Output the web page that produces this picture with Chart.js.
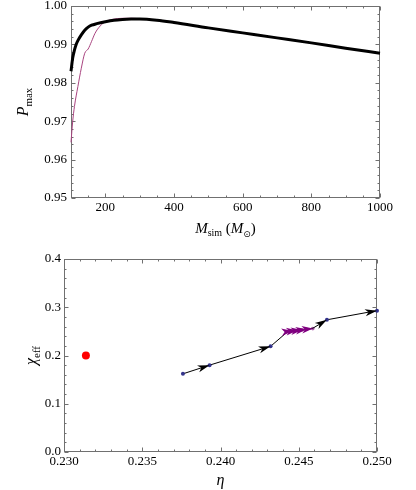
<!DOCTYPE html>
<html><head><meta charset="utf-8">
<script src="https://cdn.jsdelivr.net/npm/chart.js@4"></script>
<style>
html,body{margin:0;padding:0;background:#fff;width:416px;height:490px;overflow:hidden}
.box{position:absolute;left:0;width:416px;height:245px}
canvas{display:block}
</style></head><body>
<div class="box" style="top:0"><canvas id="c1" width="416" height="245"></canvas></div>
<div class="box" style="top:245px"><canvas id="c2" width="416" height="245"></canvas></div>
<script>
// ---- Top panel data: P_max vs M_sim ----
const massBlack = [100,105,110,115,120,130,140,150,160,175,200,225,250,275,300,350,400,500,600,700,800,900,1000];
const pmaxBlack = [0.9830,0.9865,0.9885,0.9900,0.9910,0.9925,0.9937,0.9945,0.9950,0.9954,0.9959,0.9963,0.9965,0.9966,0.9966,0.9963,0.9957,0.9943,0.9930,0.9917,0.9904,0.9890,0.9877];
const massMagenta = [100,105,110,120,130,140,150,160,170,185,200,220,250,275,300,350,400,500,600,700,800,900,1000];
const pmaxMagenta = [0.9645,0.9700,0.9738,0.9790,0.9838,0.9877,0.9888,0.9908,0.9929,0.9948,0.9959,0.9965,0.9968,0.9968,0.9967,0.9964,0.9958,0.9943,0.9930,0.9917,0.9904,0.9890,0.9877];
const massTicks = [200,400,600,800,1000];
const pmaxTicks = [0.95,0.96,0.97,0.98,0.99,1.00];

// ---- Bottom panel data: chi_eff vs eta ----
const etaTrack = [0.2376,0.2393,0.2432,0.2443,0.2459,0.2468,0.2500];
const chiTrack = [0.162,0.180,0.219,0.2497,0.2565,0.274,0.293];
const etaCluster = [0.24425,0.2446,0.2449,0.2452,0.2455,0.2459];
const chiCluster = [0.2495,0.2508,0.2518,0.2530,0.2543,0.2558];
const etaTarget = [0.2314];
const chiTarget = [0.200];
const etaTicks = [0.230,0.235,0.240,0.245,0.250];
const chiTicks = [0.0,0.1,0.2,0.3,0.4];

const SERIF = '"Liberation Serif","DejaVu Serif",serif';
const pts = (xs, ys) => xs.map((x, i) => ({x, y: ys[i]}));

const frameTicks = {
  id: 'frameTicks',
  beforeDatasetsDraw(chart, args, o) {
    const {ctx, chartArea: a} = chart;
    const xs = chart.scales.x, ys = chart.scales.y;
    const L = Math.round(a.left) + 0.5, R = Math.round(a.right) - 0.5;
    const T = Math.round(a.top) + 0.5, B = Math.round(a.bottom) - 0.5;
    ctx.save();
    ctx.strokeStyle = '#707070';
    ctx.lineWidth = 1;
    ctx.strokeRect(L, T, R - L, B - T);
    const each = (scale, minor, major, cb) => {
      const n = Math.round((scale.max - scale.min) / minor);
      for (let i = 0; i <= n; i++) {
        const v = scale.min + i * minor;
        const r = v / major;
        const isMaj = Math.abs(r - Math.round(r)) < 1e-6;
        cb(Math.round(scale.getPixelForValue(v)) + 0.5, isMaj ? o.major : o.minor);
      }
    };
    ctx.beginPath();
    each(xs, o.xMinor, o.xMajor, (p, len) => { ctx.moveTo(p, B); ctx.lineTo(p, B - len); ctx.moveTo(p, T); ctx.lineTo(p, T + len); });
    each(ys, o.yMinor, o.yMajor, (p, len) => { ctx.moveTo(L, p); ctx.lineTo(L + len, p); ctx.moveTo(R, p); ctx.lineTo(R - len, p); });
    ctx.stroke();
    ctx.restore();
  }
};

function drawRich(ctx, parts, x, y, rot) {
  ctx.save();
  ctx.translate(x, y);
  if (rot) ctx.rotate(rot);
  let w = 0;
  parts.forEach(p => { ctx.font = p.f; w += ctx.measureText(p.t).width; });
  let cx = -w / 2;
  ctx.textBaseline = 'alphabetic';
  ctx.textAlign = 'left';
  ctx.fillStyle = '#000';
  parts.forEach(p => { ctx.font = p.f; ctx.fillText(p.t, cx, p.dy || 0); cx += ctx.measureText(p.t).width; });
  ctx.restore();
}

const richTitles = {
  id: 'richTitles',
  afterDraw(chart, args, o) {
    const {ctx, chartArea: a} = chart;
    drawRich(ctx, o.xParts, (a.left + a.right) / 2, o.xBase, 0);
    drawRich(ctx, o.yParts, o.yBase, (a.top + a.bottom) / 2, -Math.PI / 2);
  }
};

const arrows = {
  id: 'arrows',
  afterDatasetsDraw(chart) {
    const ctx = chart.ctx;
    chart.data.datasets.forEach((ds, di) => {
      if (!ds.arrowColor) return;
      const els = chart.getDatasetMeta(di).data;
      ctx.save();
      ctx.fillStyle = ds.arrowColor;
      for (let i = 1; i < els.length; i++) {
        if (ds.arrowAt && !ds.arrowAt[i]) continue;
        const p0 = els[i - 1], p1 = els[i];
        const ang = Math.atan2(p1.y - p0.y, p1.x - p0.x);
        const len = ds.arrowLen, hw = ds.arrowHalf;
        ctx.save();
        ctx.translate(p1.x, p1.y);
        ctx.rotate(ang);
        ctx.beginPath();
        ctx.moveTo(0, 0);
        ctx.lineTo(-len, -hw);
        ctx.lineTo(-len * 0.72, 0);
        ctx.lineTo(-len, hw);
        ctx.closePath();
        ctx.fill();
        ctx.restore();
      }
      ctx.restore();
    });
  }
};

const tickFont = {family: SERIF, size: 13};

function fixY(w) { return s => { s.width = w; s.paddingTop = 0; s.paddingBottom = 0; }; }
function fixX(h) { return s => { s.height = h; s.paddingLeft = 0; s.paddingRight = 0; }; }
function setTicks(vals) { return s => { s.ticks = vals.map(v => ({value: v})); }; }

// ---- Top chart ----
new Chart(document.getElementById('c1'), {
  type: 'scatter',
  data: {
    datasets: [
      {data: pts(massMagenta, pmaxMagenta), showLine: true, borderColor: '#a8437f', borderWidth: 1,
       pointRadius: 0, cubicInterpolationMode: 'monotone', order: 2, clip: false},
      {data: pts(massBlack, pmaxBlack), showLine: true, borderColor: '#000', borderWidth: 3,
       pointRadius: 0, cubicInterpolationMode: 'monotone', order: 1, clip: false}
    ]
  },
  options: {
    responsive: false, animation: false, events: [],
    layout: {padding: {left: 0, right: 36, top: 6, bottom: 0}},
    plugins: {
      legend: {display: false}, tooltip: {enabled: false},
      frameTicks: {xMinor: 50, xMajor: 200, yMinor: 0.002, yMajor: 0.01, major: 4, minor: 2},
      richTitles: {
        xBase: 233,
        xParts: [
          {t: 'M', f: 'italic 15px ' + SERIF},
          {t: 'sim', f: '10px ' + SERIF, dy: 3},
          {t: ' (', f: '15px ' + SERIF},
          {t: 'M', f: 'italic 15px ' + SERIF},
          {t: '\u2299', f: '9px "DejaVu Sans",sans-serif', dy: 4},
          {t: ')', f: '15px ' + SERIF}
        ],
        yBase: 28,
        yParts: [
          {t: 'P', f: 'italic 16px ' + SERIF},
          {t: 'max', f: '11px ' + SERIF, dy: 4}
        ]
      }
    },
    scales: {
      x: {type: 'linear', min: 100, max: 1000,
          grid: {display: false, drawTicks: false}, border: {display: false},
          afterBuildTicks: setTicks(massTicks), afterFit: fixX(47),
          ticks: {font: tickFont, color: '#000', padding: 2, maxRotation: 0, callback: v => String(v)}},
      y: {type: 'linear', min: 0.95, max: 1.00,
          grid: {display: false, drawTicks: false}, border: {display: false},
          afterBuildTicks: setTicks(pmaxTicks), afterFit: fixY(71),
          ticks: {font: tickFont, color: '#000', padding: 4, callback: v => Number(v).toFixed(2)}}
    }
  },
  plugins: [frameTicks, richTitles]
});

// ---- Bottom chart ----
new Chart(document.getElementById('c2'), {
  type: 'scatter',
  data: {
    datasets: [
      {data: pts(etaTrack, chiTrack), showLine: true, borderColor: '#000', borderWidth: 1,
       pointRadius: [2, 2, 2, 0, 0, 2, 2], pointBackgroundColor: '#34348c', pointBorderWidth: 0,
       arrowColor: '#000', arrowLen: 12, arrowHalf: 3.6, arrowAt: [0, 1, 1, 0, 0, 1, 1], clip: false},
      {data: pts(etaCluster, chiCluster), showLine: true, borderColor: '#800080', borderWidth: 1.5,
       pointRadius: 1.8, pointBackgroundColor: '#b060b0', pointBorderWidth: 0,
       arrowColor: '#800080', arrowLen: 11, arrowHalf: 3.8, clip: false},
      {data: pts(etaTarget, chiTarget), showLine: false, pointRadius: 4,
       pointBackgroundColor: '#ff0000', pointBorderWidth: 0, clip: false}
    ]
  },
  options: {
    responsive: false, animation: false, events: [],
    layout: {padding: {left: 0, right: 39, top: 14, bottom: 0}},
    plugins: {
      legend: {display: false}, tooltip: {enabled: false},
      frameTicks: {xMinor: 0.001, xMajor: 0.005, yMinor: 0.02, yMajor: 0.1, major: 4, minor: 2},
      richTitles: {
        xBase: 240,
        xParts: [{t: '\u03b7', f: 'italic 16px ' + SERIF}],
        yBase: 36,
        yParts: [
          {t: '\u03c7', f: 'italic 16px ' + SERIF},
          {t: 'eff', f: '11px ' + SERIF, dy: 4}
        ]
      }
    },
    scales: {
      x: {type: 'linear', min: 0.230, max: 0.250,
          grid: {display: false, drawTicks: false}, border: {display: false},
          afterBuildTicks: setTicks(etaTicks), afterFit: fixX(38),
          ticks: {font: tickFont, color: '#000', padding: 2, maxRotation: 0, callback: v => Number(v).toFixed(3)}},
      y: {type: 'linear', min: 0, max: 0.4,
          grid: {display: false, drawTicks: false}, border: {display: false},
          afterBuildTicks: setTicks(chiTicks), afterFit: fixY(64),
          ticks: {font: tickFont, color: '#000', padding: 3, callback: v => Number(v).toFixed(1)}}
    }
  },
  plugins: [frameTicks, richTitles, arrows]
});
</script>
</body></html>
